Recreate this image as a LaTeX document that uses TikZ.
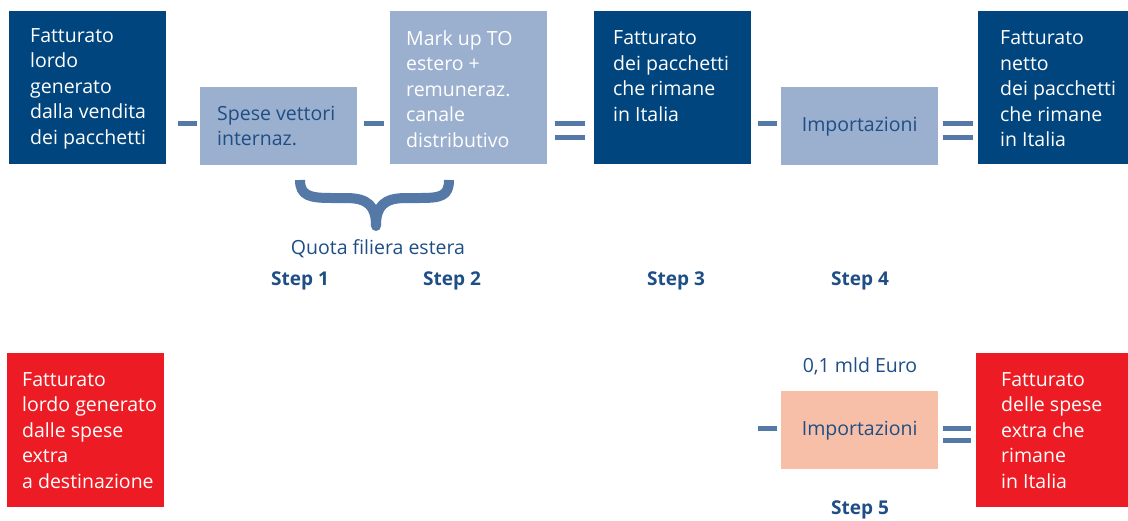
\documentclass[tikz,border=0pt]{standalone}
\usepackage{fontspec}
\setmainfont{Open Sans}
\definecolor{darkblue}{RGB}{0,69,126}
\definecolor{lightblue}{RGB}{155,175,206}
\definecolor{textblue}{RGB}{30,78,133}
\definecolor{connblue}{RGB}{85,121,167}
\definecolor{boxred}{RGB}{237,28,36}
\definecolor{salmon}{RGB}{248,191,168}
\begin{document}
\begin{tikzpicture}[x=1pt,y=-1pt,
  box/.style={draw=none,inner sep=0pt,anchor=north west},
  bigbox/.style={box,minimum width=157pt,minimum height=153pt},
  smallbox/.style={box,minimum width=157pt,minimum height=78pt},
  txt/.style={inner sep=0pt,align=left,font=\fontsize{19.5}{25.5}\selectfont},
  lbl/.style={inner sep=0pt,text=textblue,font=\fontsize{19.5}{22}\selectfont},
  steplbl/.style={inner sep=0pt,text=textblue,font=\fontsize{19}{22}\selectfont\bfseries},
  conn/.style={draw=connblue,line width=5pt}
]
\useasboundingbox (0,0) rectangle (1128,520);
% boxes
\node[bigbox,fill=darkblue] (b1) at (9,11) {};
\node[smallbox,fill=lightblue] (b2) at (200,87) {};
\node[bigbox,fill=lightblue] (b3) at (390,11) {};
\node[bigbox,fill=darkblue] (b4) at (594,11) {};
\node[smallbox,fill=lightblue] (b5) at (781,87) {};
\node[bigbox,fill=darkblue,minimum width=150pt] (b6) at (978,11) {};
\node[bigbox,fill=boxred,minimum height=154pt] (r1) at (7,353) {};
\node[smallbox,fill=salmon] (b7) at (781,391) {};
\node[bigbox,fill=boxred,minimum width=152pt,minimum height=154pt] (r2) at (976,353) {};
% texts
\node[txt,text=white,anchor=west] (t1) at ([xshift=21pt,yshift=-1pt]b1.west) {Fatturato\\lordo\\generato\\dalla vendita\\dei pacchetti};
\node[txt,text=textblue,anchor=west] (t2) at ([xshift=17pt]b2.west) {Spese vettori\\internaz.};
\node[txt,text=white,anchor=west] (t3) at ([xshift=16pt,yshift=-1pt]b3.west) {Mark up TO\\estero +\\remuneraz.\\canale\\distributivo};
\node[txt,text=white,anchor=west] (t4) at ([xshift=19pt,yshift=-1pt]b4.west) {Fatturato\\dei pacchetti\\che rimane\\in Italia\\\mbox{}};
\node[txt,text=textblue] (t5) at (b5.center) {Importazioni};
\node[txt,text=white,anchor=west] (t6) at ([xshift=22pt,yshift=-1pt]b6.west) {Fatturato\\netto\\dei pacchetti\\che rimane\\in Italia};
\node[txt,text=white,anchor=west] (tr1) at ([xshift=15pt]r1.west) {Fatturato\\lordo generato\\dalle spese\\extra\\a destinazione};
\node[txt,text=textblue] (t7) at (b7.center) {Importazioni};
\node[txt,text=white,anchor=west] (tr2) at ([xshift=25pt]r2.west) {Fatturato\\delle spese\\extra che\\rimane\\in Italia};
% labels
\node[lbl] (quota) at (378,249) {Quota filiera estera};
\node[lbl] (euro) at (860,366) {0,1 mld Euro};
\node[steplbl] (s1) at (300,281) {Step 1};
\node[steplbl] (s2) at (452,281) {Step 2};
\node[steplbl] (s3) at (676,281) {Step 3};
\node[steplbl] (s4) at (860,281) {Step 4};
\node[steplbl] (s5) at (860,510) {Step 5};
% connectors
\draw[conn] ([xshift=12pt,yshift=2.5pt]b1.east |- b2.west) -- ([xshift=-3pt,yshift=2.5pt]b2.west);
\draw[conn] ([xshift=7pt,yshift=2.5pt]b2.east) -- ([xshift=-6pt,yshift=2.5pt]b3.west |- b2.east);
\draw[conn] ([xshift=8pt,yshift=2.5pt]b3.east |- b2.east) -- ([xshift=-9pt,yshift=2.5pt]b4.west |- b2.east);
\draw[conn] ([xshift=8pt,yshift=-11pt]b3.east |- b2.east) -- ([xshift=-9pt,yshift=-11pt]b4.west |- b2.east);
\draw[conn] ([xshift=7pt,yshift=2.5pt]b4.east |- b5.west) -- ([xshift=-4pt,yshift=2.5pt]b5.west);
\draw[conn] ([xshift=5pt,yshift=2.5pt]b5.east) -- ([xshift=-5pt,yshift=2.5pt]b6.west |- b5.east);
\draw[conn] ([xshift=5pt,yshift=-11pt]b5.east) -- ([xshift=-5pt,yshift=-11pt]b6.west |- b5.east);
\draw[conn] ([xshift=-23pt,yshift=2pt]b7.west) -- ([xshift=-4pt,yshift=2pt]b7.west);
\draw[conn] ([xshift=5pt,yshift=2pt]b7.east) -- ([xshift=-5pt,yshift=2pt]r2.west |- b7.east);
\draw[conn] ([xshift=5pt,yshift=-10pt]b7.east) -- ([xshift=-5pt,yshift=-10pt]r2.west |- b7.east);
% brace
\draw[draw=connblue,line width=10pt,line join=round]
  (300,180) .. controls (300,196) and (310,198) .. (332,198) -- (346,198)
  .. controls (368,198) and (376,206) .. (376,226)
  .. controls (376,206) and (384,198) .. (406,198) -- (420,198)
  .. controls (441,198) and (449,196) .. (449,180);
\end{tikzpicture}
\end{document}
